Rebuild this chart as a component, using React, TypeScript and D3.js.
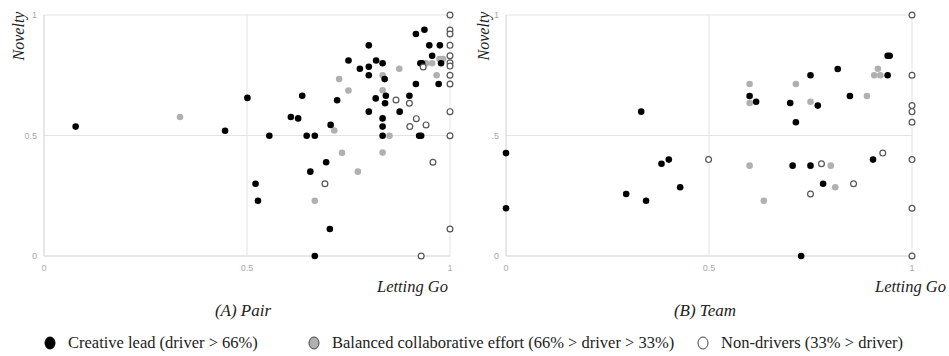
import React from "react";
import * as d3 from "d3";

// (A) Pair — [letting go, novelty]
const pairCreative: [number, number][] = [
  [0.078, 0.537], [0.446, 0.52], [0.501, 0.656], [0.521, 0.3], [0.527, 0.229],
  [0.555, 0.499], [0.608, 0.577], [0.626, 0.571], [0.636, 0.665], [0.647, 0.499],
  [0.667, 0.499], [0.656, 0.35], [0.667, 0.0], [0.695, 0.389], [0.704, 0.112],
  [0.706, 0.544], [0.722, 0.646], [0.75, 0.811], [0.778, 0.777], [0.8, 0.874],
  [0.8, 0.785], [0.8, 0.75], [0.8, 0.599], [0.817, 0.654], [0.818, 0.811],
  [0.834, 0.8], [0.839, 0.734], [0.842, 0.665], [0.84, 0.634], [0.834, 0.571],
  [0.834, 0.537], [0.834, 0.499], [0.876, 0.599], [0.9, 0.665], [0.916, 0.921],
  [0.937, 0.939], [0.916, 0.714], [0.924, 0.499], [0.929, 0.499], [0.927, 0.8],
  [0.931, 0.8], [0.949, 0.874], [0.956, 0.831], [0.975, 0.874], [0.972, 0.714],
  [0.978, 0.8],
];
const pairBalanced: [number, number][] = [
  [0.335, 0.577], [0.727, 0.734], [0.75, 0.687], [0.715, 0.521], [0.734, 0.428],
  [0.667, 0.229], [0.773, 0.35], [0.834, 0.75], [0.834, 0.688], [0.834, 0.429],
  [0.851, 0.499], [0.875, 0.777], [0.941, 0.8], [0.956, 0.8], [0.967, 0.75],
  [0.974, 0.817], [0.983, 0.817],
];
const pairNon: [number, number][] = [
  [0.692, 0.3], [0.867, 0.647], [0.9, 0.634], [0.901, 0.537], [0.917, 0.57],
  [0.941, 0.544], [0.934, 0.784], [0.958, 0.389], [0.929, 0.0],
  [1, 1], [1, 0.938], [1, 0.921], [1, 0.874], [1, 0.831], [1, 0.802], [1, 0.788],
  [1, 0.75], [1, 0.714], [1, 0.599], [1, 0.499], [1, 0.112],
];

// (B) Team
const teamCreative: [number, number][] = [
  [0.0, 0.427], [0.0, 0.198], [0.296, 0.257], [0.333, 0.599], [0.345, 0.229],
  [0.383, 0.383], [0.401, 0.4], [0.429, 0.285], [0.6, 0.664], [0.616, 0.64],
  [0.7, 0.635], [0.714, 0.555], [0.75, 0.75], [0.768, 0.624], [0.817, 0.776],
  [0.847, 0.664], [0.94, 0.75], [0.94, 0.831], [0.945, 0.831], [0.706, 0.375],
  [0.75, 0.375], [0.781, 0.3], [0.904, 0.4], [0.727, 0.0],
];
const teamBalanced: [number, number][] = [
  [0.6, 0.714], [0.6, 0.635], [0.714, 0.714], [0.75, 0.64], [0.889, 0.664],
  [0.907, 0.75], [0.922, 0.75], [0.916, 0.777], [0.6, 0.375], [0.8, 0.375],
  [0.811, 0.285], [0.635, 0.229],
];
const teamNon: [number, number][] = [
  [0.499, 0.4], [0.777, 0.383], [0.856, 0.3], [0.75, 0.257], [0.928, 0.427],
  [1, 1], [1, 0.75], [1, 0.624], [1, 0.599], [1, 0.555], [1, 0.4], [1, 0.198], [1, 0],
];

const gridTicks = [0, 0.5, 1];
const xTickLabels = ["0", "0.5", "1"];
const pairYLabels = ["0", "0.5", "1"];
const teamYLabels = ["0", ".5", "1"];

const legendItems = [
  "Creative lead (driver > 66%)",
  "Balanced collaborative effort (66% > driver > 33%)",
  "Non-drivers (33% > driver)",
];

const serif = "'Liberation Serif', 'Times New Roman', serif";
const sans = "'Liberation Sans', Arial, sans-serif";

type PanelProps = {
  x0: number;
  title: string;
  yLabels: string[];
  creative: [number, number][];
  balanced: [number, number][];
  non: [number, number][];
  novX: number;
  goX: number;
};

function Panel({ x0, title, yLabels, creative, balanced, non, novX, goX }: PanelProps) {
  const x = d3.scaleLinear().domain([0, 1]).range([x0, x0 + 406]);
  const y = d3.scaleLinear().domain([0, 1]).range([256, 15]);
  return (
    <g>
      {/* gridlines */}
      {gridTicks.map((t, i) => (
        <line key={"h" + i} x1={x(0)} x2={x(1)} y1={y(t)} y2={y(t)}
          stroke={t === 0 ? "#d0d0d0" : "#e3e3e3"} strokeWidth={1} />
      ))}
      {gridTicks.map((t, i) => (
        <line key={"v" + i} x1={x(t)} x2={x(t)} y1={y(0)} y2={y(1)}
          stroke={t === 0 ? "#d0d0d0" : "#e3e3e3"} strokeWidth={1} />
      ))}
      {gridTicks.map((t, i) => (
        <text key={"yl" + i} x={x(0) - 7} y={y(t) + 3} textAnchor="end"
          fontFamily={sans} fontSize={9} fill="#a8a8a8">{yLabels[i]}</text>
      ))}
      {gridTicks.map((t, i) => (
        <text key={"xl" + i} x={x(t)} y={271} textAnchor="middle"
          fontFamily={sans} fontSize={9} fill="#a8a8a8">{xTickLabels[i]}</text>
      ))}
      {balanced.map((d, i) => (
        <circle key={"b" + i} cx={x(d[0])} cy={y(d[1])} r={3.3} fill="#b0b0b0" />
      ))}
      {creative.map((d, i) => (
        <circle key={"c" + i} cx={x(d[0])} cy={y(d[1])} r={3.3} fill="#000" />
      ))}
      {non.map((d, i) => (
        <circle key={"n" + i} cx={x(d[0])} cy={y(d[1])} r={2.9} fill="#fff"
          stroke="#555" strokeWidth={1.2} />
      ))}
      <text transform={`translate(${novX},36) rotate(-90)`} textAnchor="middle"
        fontFamily={serif} fontStyle="italic" fontSize={16} fill="#222">Novelty</text>
      <text x={goX} y={292} textAnchor="end" fontFamily={serif}
        fontStyle="italic" fontSize={16.5} fill="#222">Letting Go</text>
      <text x={x(0.5) - 4} y={316} textAnchor="middle" fontFamily={serif}
        fontStyle="italic" fontSize={17} fill="#222">{title}</text>
    </g>
  );
}

export default function App() {
  const legendX = [50, 314, 703];
  return (
    <svg width={949} height={356} style={{ position: "absolute", left: 0, top: 0, background: "#fff" }}>
      <Panel x0={44} title="(A) Pair" yLabels={pairYLabels} creative={pairCreative}
        balanced={pairBalanced} non={pairNon} novX={24} goX={448} />
      <Panel x0={506} title="(B) Team" yLabels={teamYLabels} creative={teamCreative}
        balanced={teamBalanced} non={teamNon} novX={489} goX={946} />
      {legendItems.map((label, i) => (
        <g key={i}>
          <ellipse cx={legendX[i]} cy={343} rx={5} ry={6}
            fill={i === 0 ? "#000" : i === 1 ? "#b0b0b0" : "#fff"}
            stroke={i === 0 ? "#000" : "#444"} strokeWidth={1} />
          <text x={legendX[i] + 18} y={348} fontFamily={serif} fontSize={16.5} fill="#222">{label}</text>
        </g>
      ))}
    </svg>
  );
}
